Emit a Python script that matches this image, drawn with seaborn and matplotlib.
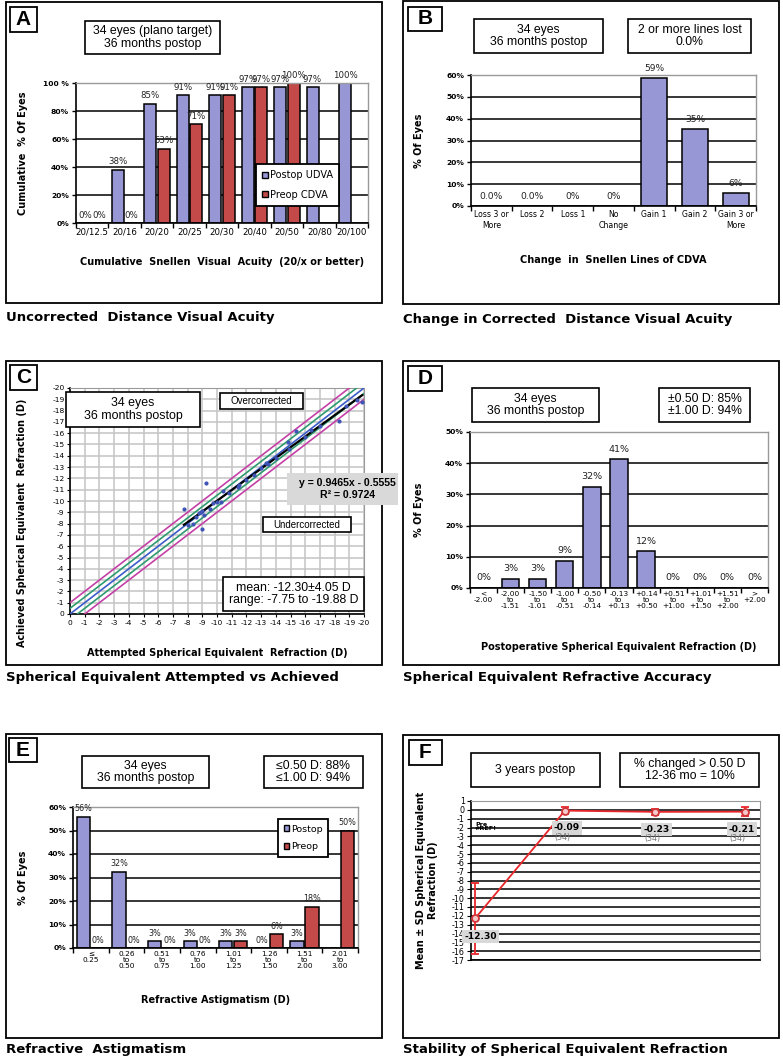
import numpy as np
import pandas as pd
import matplotlib
matplotlib.use('Agg')
import matplotlib.pyplot as plt
from matplotlib.patches import Rectangle, Patch
import seaborn as sns

# ---------------- data ----------------
# Panel A
snellen_cats = ['20/12.5', '20/16', '20/20', '20/25', '20/30', '20/40', '20/50', '20/80', '20/100']
postop_udva = [0, 38.2, 85.3, 91.2, 91.2, 97.1, 97.1, 97.1, 100.0]
preop_cdva = [0, 0, 52.9, 70.6, 91.2, 97.1, 100.0, np.nan, np.nan]

# Panel B
lines_cats = ['Loss 3 or\nMore', 'Loss 2', 'Loss 1', 'No\nChange', 'Gain 1', 'Gain 2', 'Gain 3 or\nMore']
lines_vals = [0, 0, 0, 0, 58.8, 35.3, 5.9]
lines_lbls = ['0.0%', '0.0%', '0%', '0%', '59%', '35%', '6%']

# Panel C
attempted = [-7.75, -8.0, -8.4, -8.6, -8.8, -8.9, -9.0, -9.0, -9.1, -9.25, -9.5, -9.7,
             -10.0, -10.3, -10.4, -10.8, -11.4, -11.5, -12.0, -12.5, -13.0, -13.3, -13.5,
             -14.0, -14.8, -14.9, -15.4, -16.0, -16.4, -17.0, -18.3, -18.8, -19.5, -19.88]
achieved = [-9.3, -7.9, -8.0, -8.6, -8.9, -9.0, -7.55, -9.1, -8.8, -11.6, -9.3, -9.8,
            -9.9, -9.95, -10.9, -10.7, -11.2, -11.4, -11.9, -12.3, -12.9, -13.4, -13.3,
            -13.8, -15.2, -14.6, -16.2, -15.7, -16.3, -16.6, -17.1, -18.4, -18.9, -18.8]
fit_slope = 0.9465
fit_intercept = -0.5555
tolerances = [0.5, 1.0]

# Panel D
se_cats = ['<\n-2.00', '-2.00\nto\n-1.51', '-1.50\nto\n-1.01', '-1.00\nto\n-0.51', '-0.50\nto\n-0.14',
           '-0.13\nto\n+0.13', '+0.14\nto\n+0.50', '+0.51\nto\n+1.00', '+1.01\nto\n+1.50',
           '+1.51\nto\n+2.00', '>\n+2.00']
se_vals = [0, 2.9, 2.9, 8.8, 32.4, 41.2, 11.8, 0, 0, 0, 0]

# Panel E
astig_cats = ['\u2264\n0.25', '0.26\nto\n0.50', '0.51\nto\n0.75', '0.76\nto\n1.00', '1.01\nto\n1.25',
              '1.26\nto\n1.50', '1.51\nto\n2.00', '2.01\nto\n3.00']
astig_postop = [55.9, 32.4, 2.9, 2.9, 2.9, 0, 2.9, np.nan]
astig_preop = [0, 0, 0, 0, 2.9, 5.9, 17.6, 50.0]

# Panel F
time_idx = [0, 1, 2, 3]
se_mean = [-12.30, -0.09, -0.23, -0.21]
se_sd = [4.05, 0.42, 0.35, 0.52]
se_lbls = ['-12.30', '-0.09', '-0.23', '-0.21']
se_n = ['', '(34)', '(34)', '(34)']

# ---------------- style ----------------
W, H = 783, 1062
plt.rcParams['font.family'] = ['DejaVu Sans']
plt.rcParams['axes.unicode_minus'] = False
BLUE = '#9797D6'
RED = '#C44A4A'
BOXFONT = ['Liberation Sans', 'DejaVu Sans']
BOXFS = 8.8
LABFS = 7.0

fig = plt.figure(figsize=(W / 100, H / 100), dpi=100)
fig.patch.set_facecolor('white')


def add_axes(x0, y0, x1, y1):
    return fig.add_axes([x0 / W, 1 - y1 / H, (x1 - x0) / W, (y1 - y0) / H])


def rect(x0, y0, x1, y1, lw=1.2, fc='white', ec='black', z=5):
    r = Rectangle((x0 / W, 1 - y1 / H), (x1 - x0) / W, (y1 - y0) / H, transform=fig.transFigure,
                  facecolor=fc, edgecolor=ec, lw=lw, zorder=z)
    fig.add_artist(r)


def box(x0, y0, x1, y1, text, fs=BOXFS, weight='normal', fc='white', lw=1.2, ec='black'):
    rect(x0, y0, x1, y1, lw=lw, fc=fc, ec=ec)
    fig.text((x0 + x1) / 2 / W, 1 - (y0 + y1) / 2 / H, text, ha='center', va='center', fontsize=fs,
             family=BOXFONT, weight=weight, linespacing=1.1, zorder=6)


def frame(x0, y0, x1, y1, letter, lb, caption, cy):
    rect(x0, y0, x1, y1, lw=1.3, fc='none', z=4)
    box(*lb, letter, fs=15, weight='bold', lw=1.3)
    fig.text(x0 / W, 1 - cy / H, caption, ha='left', va='center', fontsize=9.5, weight='bold')


def ylab(ax, text, px, axbox, fs=LABFS, py=None):
    x0, y0, x1, y1 = axbox
    ax.set_ylabel(text, fontsize=fs, weight='bold', linespacing=1.2)
    yc = 0.5 if py is None else (y1 - py) / (y1 - y0)
    ax.yaxis.set_label_coords((px - x0) / (x1 - x0), yc)
    ax.yaxis.label.set_horizontalalignment('center')
    ax.yaxis.label.set_verticalalignment('center')


def xlab(ax, text, py, axbox, fs=LABFS):
    x0, y0, x1, y1 = axbox
    ax.set_xlabel(text, fontsize=fs, weight='bold')
    ax.xaxis.set_label_coords(0.5, (y1 - py) / (y1 - y0))
    ax.xaxis.label.set_verticalalignment('center')


def style_bars(ax, ymax, step, fmt, n):
    ax.set_ylim(0, ymax)
    ticks = np.arange(0, ymax + 0.1, step)
    ax.set_yticks(ticks)
    ax.set_yticklabels([fmt(t) for t in ticks], fontsize=5.4, weight='bold')
    ax.yaxis.grid(True, color='black', lw=1.1)
    ax.xaxis.grid(False)
    ax.set_axisbelow(True)
    for s in ['top', 'right']:
        ax.spines[s].set_color('#9a9a9a')
        ax.spines[s].set_linewidth(1.0)
    for s in ['left', 'bottom']:
        ax.spines[s].set_color('black')
        ax.spines[s].set_linewidth(1.2)
    ax.tick_params(axis='y', length=3, width=1, left=True, pad=2, colors='black')
    ax.tick_params(axis='x', which='major', length=0, pad=3, labelsize=5.6)
    ax.set_xticks(np.arange(-0.5, n, 1.0), minor=True)
    ax.tick_params(axis='x', which='minor', length=3.5, width=1, bottom=True)
    ax.set_xlim(-0.5, n - 0.5)
    ax.set_ylabel('')
    ax.set_xlabel('')


def label_bars(ax, label_lists, pad, fs, color='#222222'):
    for cont, labels in zip(ax.containers, label_lists):
        for p in cont.patches:
            h = p.get_height()
            if not np.isfinite(h):
                continue
            cx = p.get_x() + p.get_width() / 2
            lbl = labels[int(round(cx))]
            if lbl:
                ax.annotate(lbl, (cx, h), xytext=(0, pad), textcoords='offset points', ha='center',
                            va='bottom', fontsize=fs, color=color, annotation_clip=False)


pct = lambda v: '' if not np.isfinite(v) else f'{v:.0f}%'

# ---------------- Panel A ----------------
boxA = (76, 83, 368, 223)
axA = add_axes(*boxA)
dfA = pd.DataFrame({'cat': snellen_cats * 2, 'val': postop_udva + preop_cdva,
                    'series': ['Postop UDVA'] * len(snellen_cats) + ['Preop CDVA'] * len(snellen_cats)})
sns.barplot(data=dfA, x='cat', y='val', hue='series', palette={'Postop UDVA': BLUE, 'Preop CDVA': RED},
            saturation=1, edgecolor='black', linewidth=1.1, width=0.84, gap=0.12, legend=False, ax=axA)
style_bars(axA, 100, 20, lambda t: '100 %' if t == 100 else f'{t:.0f}%', len(snellen_cats))
axA.tick_params(axis='x', labelsize=6.2)
label_bars(axA, [[pct(v) for v in postop_udva], [pct(v) for v in preop_cdva]], 2.5, 6.2)
axA.legend(handles=[Patch(facecolor=BLUE, edgecolor='black'), Patch(facecolor=RED, edgecolor='black')],
           labels=['Postop UDVA', 'Preop CDVA'], loc='upper left', bbox_to_anchor=(256 / W, 1 - 164 / H),
           bbox_transform=fig.transFigure, frameon=True, fancybox=False, edgecolor='black', framealpha=1,
           fontsize=7.0, handlelength=0.55, handleheight=0.55, handletextpad=0.2, labelspacing=0.95,
           borderpad=0.65, borderaxespad=0).get_frame().set_linewidth(1.3)
ylab(axA, 'Cumulative  % Of Eyes', 23, boxA)
xlab(axA, 'Cumulative  Snellen  Visual  Acuity  (20/x or better)', 262, boxA)
frame(6, 2, 382, 303, 'A', (10, 7, 37, 32), 'Uncorrected  Distance Visual Acuity', 318)
box(85, 21, 220, 54, '34 eyes (plano target)\n36 months postop')

# ---------------- Panel B ----------------
boxB = (471, 75, 756, 206)
axB = add_axes(*boxB)
sns.barplot(x=lines_cats, y=lines_vals, color=BLUE, saturation=1, edgecolor='black', linewidth=1.1,
            width=0.64, ax=axB)
style_bars(axB, 60, 10, lambda t: f'{t:.0f}%', len(lines_cats))
label_bars(axB, [lines_lbls], 3.5, 6.6)
ylab(axB, '% Of Eyes', 419, boxB)
xlab(axB, 'Change  in  Snellen Lines of CDVA', 260, boxB)
frame(403, 1, 779, 304, 'B', (408, 7, 442, 31), 'Change in Corrected  Distance Visual Acuity', 320)
box(474, 19, 603, 53, '34 eyes\n36 months postop')
box(628, 19, 751, 53, '2 or more lines lost\n0.0%')

# ---------------- Panel C ----------------
boxC = (70, 388, 364, 614)
axC = add_axes(*boxC)
axC.set_xlim(0, -20)
axC.set_ylim(0, -20)
tk = np.arange(0, -21, -1)
axC.set_xticks(tk)
axC.set_yticks(tk)
axC.set_xticklabels([str(t) for t in tk], fontsize=5.4)
axC.set_yticklabels([str(t) for t in tk], fontsize=5.4)
axC.grid(True, color='#c4c4c4', lw=1.1)
axC.set_axisbelow(True)
axC.tick_params(length=2.5, pad=1.5, left=True, bottom=True)
for s in ['top', 'right']:
    axC.spines[s].set_color('#9a9a9a')
for s in ['left', 'bottom']:
    axC.spines[s].set_color('black')
    axC.spines[s].set_linewidth(1.2)
axC.axline((0, 0), slope=1, color='#3a5cc8', lw=1.2, zorder=3)
for tol, colr in zip(tolerances, ['#2e9a70', '#c43fa6']):
    axC.axline((0, -tol), slope=1, color=colr, lw=1.2, zorder=3)
    axC.axline((-tol, 0), slope=1, color=colr, lw=1.2, zorder=3)
sns.scatterplot(x=attempted, y=achieved, color='#3f55b5', s=9, linewidth=0, ax=axC, zorder=5)
fx = np.array([min(attempted), max(attempted)])
axC.plot(fx, fit_slope * fx + fit_intercept, color='black', lw=1.6, zorder=4)
ylab(axC, 'Achieved Spherical Equivalent  Refraction (D)', 22, boxC, fs=6.9, py=523)
xlab(axC, 'Attempted Spherical Equivalent  Refraction (D)', 653, boxC)
frame(6, 361, 382, 665, 'C', (10, 365, 37, 390), 'Spherical Equivalent Attempted vs Achieved', 678)
box(66, 392, 200, 427, '34 eyes\n36 months postop', fs=8.9)
box(220, 393, 303, 409, 'Overcorrected', fs=7.0)
box(263, 517, 351, 532, 'Undercorrected', fs=7.0)
box(223, 577, 364, 611, 'mean: -12.30\u00b14.05 D\nrange: -7.75 to -19.88 D', fs=8.8)
rect(287, 473, 398, 505, lw=0, fc='#d9d9d9', ec='none', z=5)
fig.text(396 / W, 1 - 489 / H, f'y = {fit_slope}x - {abs(fit_intercept)}\nR\u00b2 = 0.9724', ha='right',
         va='center', fontsize=7.6, weight='bold', family=BOXFONT, multialignment='center', zorder=6)

# ---------------- Panel D ----------------
boxD = (470, 432, 768, 588)
axD = add_axes(*boxD)
sns.barplot(x=se_cats, y=se_vals, color=BLUE, saturation=1, edgecolor='black', linewidth=1.1,
            width=0.64, ax=axD)
style_bars(axD, 50, 10, lambda t: f'{t:.0f}%', len(se_cats))
axD.tick_params(axis='x', labelsize=5.3, pad=2)
for t in axD.get_xticklabels():
    t.set_linespacing(1.0)
label_bars(axD, [[pct(v) for v in se_vals]], 4, 6.8)
ylab(axD, '% Of Eyes', 419, boxD)
xlab(axD, 'Postoperative Spherical Equivalent Refraction (D)', 647, boxD)
frame(403, 361, 779, 665, 'D', (408, 366, 442, 391), 'Spherical Equivalent Refractive Accuracy', 678)
box(472, 388, 599, 422, '34 eyes\n36 months postop')
box(659, 388, 750, 422, '\u00b10.50 D: 85%\n\u00b11.00 D: 94%')

# ---------------- Panel E ----------------
boxE = (73, 807, 358, 948)
axE = add_axes(*boxE)
dfE = pd.DataFrame({'cat': astig_cats * 2, 'val': astig_postop + astig_preop,
                    'series': ['Postop'] * len(astig_cats) + ['Preop'] * len(astig_cats)})
sns.barplot(data=dfE, x='cat', y='val', hue='series', palette={'Postop': BLUE, 'Preop': RED},
            saturation=1, edgecolor='black', linewidth=1.1, width=0.84, gap=0.12, legend=False, ax=axE)
style_bars(axE, 60, 10, lambda t: f'{t:.0f}%', len(astig_cats))
axE.tick_params(axis='x', labelsize=5.3, pad=2)
for t in axE.get_xticklabels():
    t.set_linespacing(1.0)
label_bars(axE, [[pct(v) for v in astig_postop], [pct(v) for v in astig_preop]], 2.5, 5.8)
axE.legend(handles=[Patch(facecolor=BLUE, edgecolor='black'), Patch(facecolor=RED, edgecolor='black')],
           labels=['Postop', 'Preop'], loc='upper left', bbox_to_anchor=(278 / W, 1 - 819 / H),
           bbox_transform=fig.transFigure, frameon=True, fancybox=False, edgecolor='black', framealpha=1,
           fontsize=6.8, handlelength=0.55, handleheight=0.55, handletextpad=0.2, labelspacing=0.9,
           borderpad=0.6, borderaxespad=0).get_frame().set_linewidth(1.3)
ylab(axE, '% Of Eyes', 23, boxE)
xlab(axE, 'Refractive Astigmatism (D)', 1000, boxE)
frame(6, 734, 382, 1038, 'E', (9, 738, 37, 762), 'Refractive  Astigmatism', 1050)
box(82, 756, 209, 788, '34 eyes\n36 months postop')
box(264, 756, 363, 788, '\u22640.50 D: 88%\n\u22641.00 D: 94%')

# ---------------- Panel F ----------------
boxF = (471, 801, 760, 960)
axF = add_axes(*boxF)
axF.set_xlim(-0.045, 3.17)
axF.set_ylim(-17, 1)
yt = np.arange(1, -18, -1)
axF.set_yticks(yt)
axF.set_yticklabels([str(t) for t in yt], fontsize=5.8)
axF.set_xticks([])
axF.yaxis.grid(True, color='black', lw=1.1)
axF.set_axisbelow(True)
axF.tick_params(axis='y', length=3, pad=1.5, left=True)
for s in ['top', 'right']:
    axF.spines[s].set_color('#9a9a9a')
for s in ['left', 'bottom']:
    axF.spines[s].set_color('black')
    axF.spines[s].set_linewidth(1.2)
axF.errorbar(time_idx, se_mean, yerr=se_sd, fmt='none', ecolor='#e8262a', elinewidth=1.3, capsize=3,
             capthick=1.3, zorder=4)
sns.lineplot(x=time_idx, y=se_mean, color='#e8262a', lw=1.3, marker='o', markersize=5,
             markerfacecolor='#f4c8c8', markeredgecolor='#d0353a', markeredgewidth=1.3, ax=axF, zorder=5)
offsets = [(4, -13), (1.5, -12.5), (1, -12.5), (-2, -12.5)]
for xi, yi, lb, nn, off in zip(time_idx, se_mean, se_lbls, se_n, offsets):
    axF.annotate(lb, (xi, yi), xytext=off, textcoords='offset points', ha='center', va='center',
                 fontsize=6.6, weight='bold', annotation_clip=False, zorder=6,
                 bbox=dict(facecolor='#d8d8d8', edgecolor='none', pad=1.6))
    if nn:
        axF.annotate(nn, (xi, yi), xytext=(off[0] - 3, off[1] - 6.5), textcoords='offset points',
                     ha='center', va='center', fontsize=5.8, color='#777777', annotation_clip=False, zorder=6)
axF.text(time_idx[0], -1.9, 'Pre\n#REF!', ha='left', va='center', fontsize=4.6, weight='bold',
         linespacing=0.8, zorder=6)
axF.set_xlabel('')
axF.set_ylabel('')
ylab(axF, 'Mean \u00b1 SD Spherical Equivalent\nRefraction (D)', 427, boxF, fs=7.0)
xlab(axF, 'Time After Surgery (months)', 1010, boxF)
frame(403, 735, 779, 1038, 'F', (409, 740, 442, 765), 'Stability of Spherical Equivalent Refraction', 1050)
box(471, 753, 600, 787, '3 years postop')
box(620, 753, 759, 787, '% changed > 0.50 D\n12-36 mo = 10%')

fig.savefig('out.png', dpi=100, facecolor='white')
